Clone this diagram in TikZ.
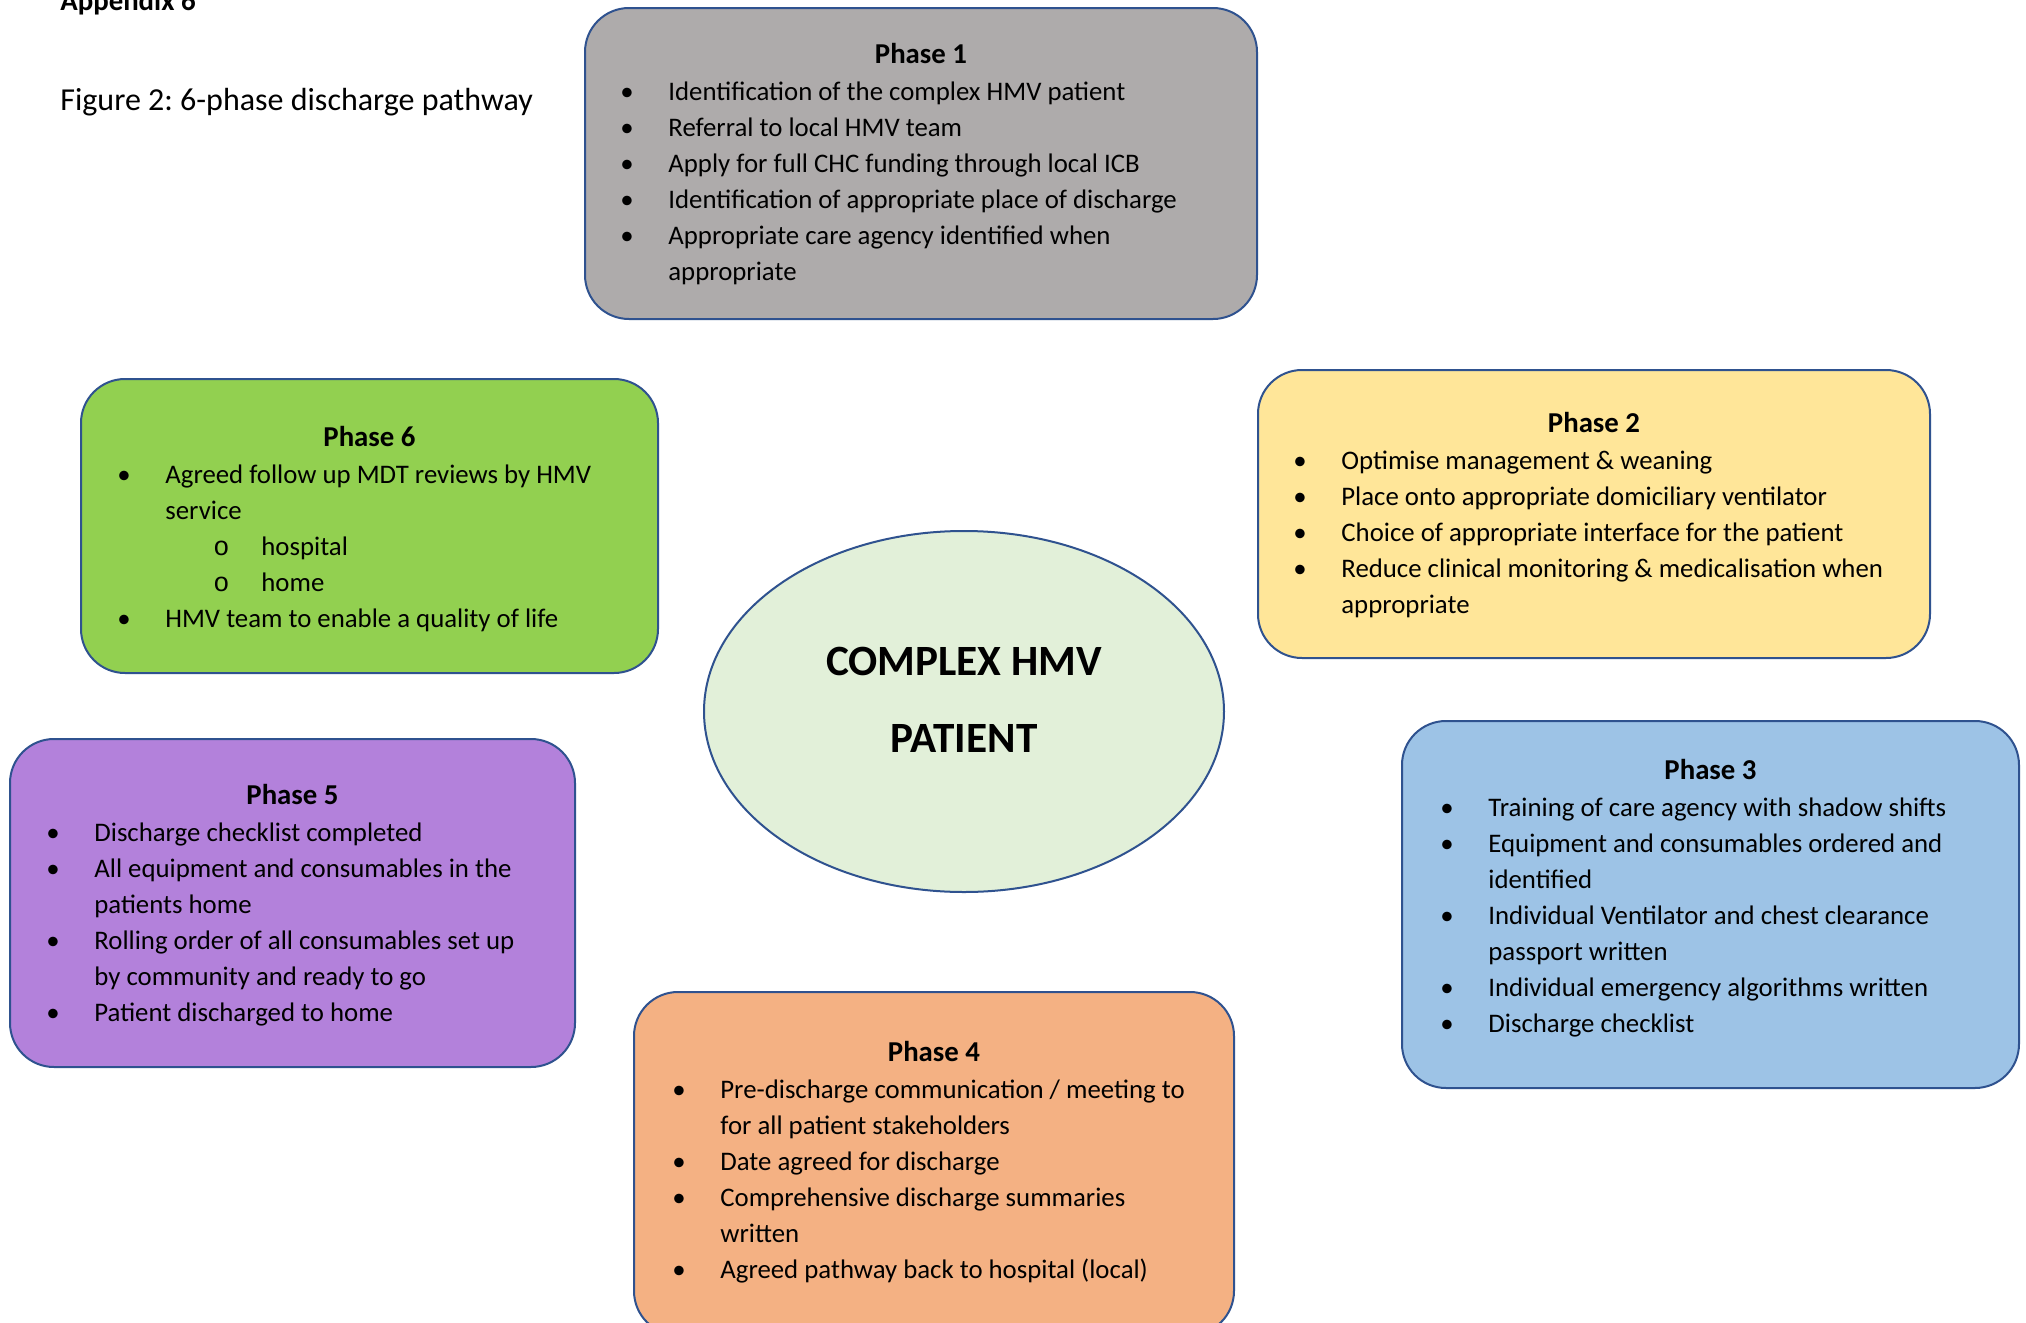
\documentclass[tikz,border=0pt]{standalone}
\usepackage{fontspec}
\setmainfont{Carlito}
\newfontfamily\subbulletfont{Liberation Mono}
\usetikzlibrary{shapes.geometric,positioning}
\definecolor{borderBlue}{HTML}{2F528F}
\definecolor{phaseGrey}{HTML}{AEABAB}
\definecolor{phaseYellow}{HTML}{FFE699}
\definecolor{phaseBlue}{HTML}{9DC3E6}
\definecolor{phaseOrange}{HTML}{F4B183}
\definecolor{phasePurple}{HTML}{B381DB}
\definecolor{phaseGreen}{HTML}{92D050}
\definecolor{coreGreen}{HTML}{E2F0D9}
\frenchspacing

\newcommand{\bul}{\strut\makebox[24pt][l]{\textbullet}}
\newcommand{\cont}{\strut\hspace*{24pt}}
\newcommand{\subitm}{\strut\hspace*{48pt}\makebox[24pt][l]{\subbulletfont o}}

\tikzset{
    phase/.style={draw=borderBlue, line width=1pt, rounded corners=22pt, inner sep=0pt},
    phasetitle/.style={font=\fontsize{14.4}{18}\selectfont\bfseries, anchor=base, inner sep=0pt},
    phaselist/.style={font=\fontsize{13.4}{18}\selectfont, align=left, anchor=north west, inner sep=0pt},
}

\begin{document}
\begin{tikzpicture}[x=0.5pt, y=-0.5pt]
                        \useasboundingbox (0,0) rectangle (2026,1323);
                        \fill[white] (0,0) rectangle (2026,1323);
                        \clip (0,0) rectangle (2026,1323);

                        \node[anchor=base west, inner sep=0pt, font=\fontsize{14.4}{17}\selectfont\bfseries] (appx) at (60,10) {Appendix 6};
                        \node[anchor=base west, inner sep=0pt, font=\fontsize{16}{19}\selectfont] (figcap) at (60,110) {Figure 2: 6-phase discharge pathway};

                        % phase boxes
                        \node[phase, fill=phaseGrey, minimum width=336pt, minimum height=155.5pt] (p1) at (921,163.5) {};
                        \node[phase, fill=phaseYellow, minimum width=336pt, minimum height=144pt] (p2) at (1594,514) {};
                        \node[phase, fill=phaseBlue, minimum width=308.5pt, minimum height=183.5pt] (p3) at (1710.5,904.5) {};
                        \node[phase, fill=phaseOrange, minimum width=300pt, minimum height=171.5pt] (p4) at (934,1163.5) {};
                        \node[phase, fill=phasePurple, minimum width=282.5pt, minimum height=164pt] (p5) at (292.5,903) {};
                        \node[phase, fill=phaseGreen, minimum width=288.5pt, minimum height=147pt] (p6) at (369.5,526) {};

                        \node[ellipse, draw=borderBlue, line width=1pt, fill=coreGreen, minimum width=260pt, minimum height=180.5pt, inner sep=0pt] (core) at (964,711.5) {};
                        \node[font=\fontsize{21.6}{38.75}\selectfont\bfseries, align=center, inner sep=0pt] (coretxt) at (964,700) {COMPLEX HMV\\PATIENT};

                        % titles
                        \node[phasetitle] (p1title) at (921,63) {Phase 1};
                        \node[phasetitle] (p2title) at (1594,432) {Phase 2};
                        \node[phasetitle] (p3title) at (1710.5,779.5) {Phase 3};
                        \node[phasetitle] (p4title) at (934,1061) {Phase 4};
                        \node[phasetitle] (p5title) at (292.5,804) {Phase 5};
                        \node[phasetitle] (p6title) at (369.5,446) {Phase 6};

                        % bullet lists
                        \node[phaselist] (p1list) at (620,74.8) {\bul Identification of the complex HMV patient\\
                            \bul Referral to local HMV team\\
                            \bul Apply for full CHC funding through local ICB\\
                            \bul Identification of appropriate place of discharge\\
                            \bul Appropriate care agency identified when\\
                            \cont appropriate};
                        \node[phaselist] (p2list) at (1293,443.8) {\bul Optimise management \& weaning\\
                            \bul Place onto appropriate domiciliary ventilator\\
                            \bul Choice of appropriate interface for the patient\\
                            \bul Reduce clinical monitoring \& medicalisation when\\
                            \cont appropriate};
                        \node[phaselist] (p3list) at (1440,791.3) {\bul Training of care agency with shadow shifts\\
                            \bul Equipment and consumables ordered and\\
                            \cont identified\\
                            \bul Individual Ventilator and chest clearance\\
                            \cont passport written\\
                            \bul Individual emergency algorithms written\\
                            \bul Discharge checklist};
                        \node[phaselist] (p4list) at (672,1072.8) {\bul Pre-discharge communication / meeting to\\
                            \cont for all patient stakeholders\\
                            \bul Date agreed for discharge\\
                            \bul Comprehensive discharge summaries\\
                            \cont written\\
                            \bul Agreed pathway back to hospital (local)};
                        \node[phaselist] (p5list) at (46,815.8) {\bul Discharge checklist completed\\
                            \bul All equipment and consumables in the\\
                            \cont patients home\\
                            \bul Rolling order of all consumables set up\\
                            \cont by community and ready to go\\
                            \bul Patient discharged to home};
                        \node[phaselist] (p6list) at (117,457.8) {\bul Agreed follow up MDT reviews by HMV\\
                            \cont service\\
                            \subitm hospital\\
                            \subitm home\\
                            \bul HMV team to enable a quality of life};
                    \end{tikzpicture}
\end{document}
